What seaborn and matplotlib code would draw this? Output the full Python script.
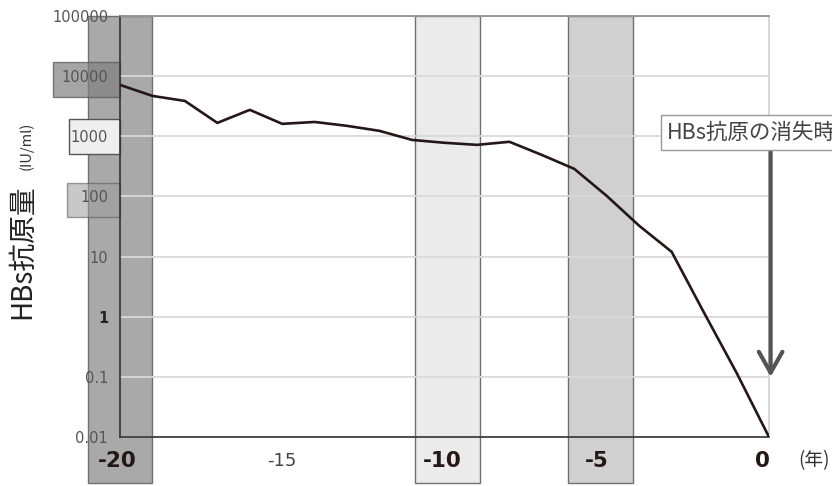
import matplotlib
matplotlib.use('Agg')
import matplotlib.pyplot as plt
import matplotlib.transforms as mtransforms
from matplotlib.patches import Rectangle
from matplotlib.ticker import NullLocator
import seaborn as sns

# data
years = list(range(-20, 1))
hbs = [7150, 4690, 3870, 1670, 2750, 1610, 1730, 1490, 1230, 870, 780,
       720, 810, 490, 287, 102, 32.5, 12, 1.16, 0.117, 0.01]

y_ticks = [0.01, 0.1, 1, 10, 100, 1000, 10000, 100000]
y_labels = ['0.01', '0.1', '1', '10', '100', '1000', '10000', '100000']

x_label_pos = [-20.1, -15.0, -10.06, -5.3, -0.2]
x_label_txt = ['-20', '-15', '-10', '-5', '0']
x_label_bold = [True, False, True, True, True]

band_lo = [-21.0, -10.9, -6.2]
band_hi = [-19.0, -8.9, -4.2]
band_col = ['#a9a9a9', '#ebebeb', '#d0d0d0']

box_ticks = [10000, 1000, 100]
box_left = [-22.05, -21.57, -21.63]
box_shift = [-0.06, 0.0, -0.06]
box_col = ['#828282', '#efefef', '#9d9d9d']
box_alpha = [0.72, 1.0, 0.56]

sns.set_theme(style='white')
plt.rcParams['font.family'] = ['DejaVu Sans', 'Noto Sans CJK JP']
cjk = ['Noto Sans CJK JP', 'DejaVu Sans']

fig = plt.figure(figsize=(8.32, 4.86), dpi=100)
ax = fig.add_axes([120 / 832, 49 / 486, 649 / 832, 421 / 486])
ax.set_axisbelow(True)

sns.lineplot(x=years, y=hbs, ax=ax, color='#231815', lw=1.9, zorder=3)
ax.set_yscale('log')
ax.set_ylim(0.01, 100000)
ax.set_xlim(-20, 0)
ax.yaxis.set_minor_locator(NullLocator())
ax.set_yticks(y_ticks)
ax.set_yticklabels(y_labels)
ax.set_xticks(years)
ax.set_xticklabels([])
ax.tick_params(axis='y', direction='in', length=4, width=1, color='#333333',
               pad=8.5, labelsize=10.5, labelcolor='#555555')
ax.tick_params(axis='x', direction='in', length=5, width=1, color='#333333')
ax.get_yticklabels()[2].set_fontweight('bold')
ax.get_yticklabels()[2].set_color('#222222')
ax.set_xlabel('')
ax.set_ylabel('')

ax.grid(axis='y', color='#d9d9d9', lw=1.3)
ax.spines['left'].set_color('#333333')
ax.spines['bottom'].set_color('#333333')
ax.spines['top'].set_color('#8a8a8a')
ax.spines['right'].set_color('#cfcfcf')
for s in ax.spines.values():
    s.set_linewidth(1.2)

trans = mtransforms.blended_transform_factory(ax.transData, ax.transAxes)
for lo, hi, c in zip(band_lo, band_hi, band_col):
    ax.add_patch(Rectangle((lo, -0.109), hi - lo, 1.109, transform=trans,
                           facecolor=c, edgecolor='#707070', lw=1.0,
                           clip_on=False, zorder=0.3))

for t, left, sh, c, a in zip(box_ticks, box_left, box_shift, box_col,
                             box_alpha):
    lo = t * 10 ** (sh - 0.29)
    hi = t * 10 ** (sh + 0.29)
    ax.add_patch(Rectangle((left, lo), -20 - left, hi - lo,
                           facecolor=c, alpha=a, edgecolor='#555555', lw=1.0,
                           clip_on=False, zorder=0.4))

for xp, txt, b in zip(x_label_pos, x_label_txt, x_label_bold):
    ax.text(xp, -0.057, txt, transform=trans, ha='center', va='center',
            fontsize=15.5 if b else 13, fontweight='bold' if b else 'normal',
            color='#231815' if b else '#444444')
fig.text(814 / 832, 1 - 461 / 486, '(年)', ha='center', va='center',
         fontsize=13.5, family=cjk, color='#333333')

fig.text(30 / 832, 1 - 251.5 / 486, 'HBs抗原量', rotation=90,
         rotation_mode='anchor', ha='center', va='baseline', fontsize=20,
         family=cjk, color='#222222')
fig.text(31 / 832, 1 - 146 / 486, '(IU/ml)', rotation=90,
         rotation_mode='anchor', ha='center', va='baseline', fontsize=10.5,
         family=cjk, color='#333333')

ax.annotate('', xy=(0.05, 0.1), xytext=(0.05, 600),
            arrowprops=dict(arrowstyle='->,head_length=1.5,head_width=0.85',
                            color='#555555', lw=3.0, mutation_scale=10,
                            shrinkA=0, shrinkB=0), annotation_clip=False,
            zorder=4)
ax.text(-3.14, 1137, 'HBs抗原の消失時', ha='left', va='center',
        fontsize=15.5, family=cjk, color='#444444', zorder=5,
        bbox=dict(boxstyle='square,pad=0.3', facecolor='white',
                  edgecolor='#999999', lw=1.0))

fig.savefig('out.png', dpi=100)
